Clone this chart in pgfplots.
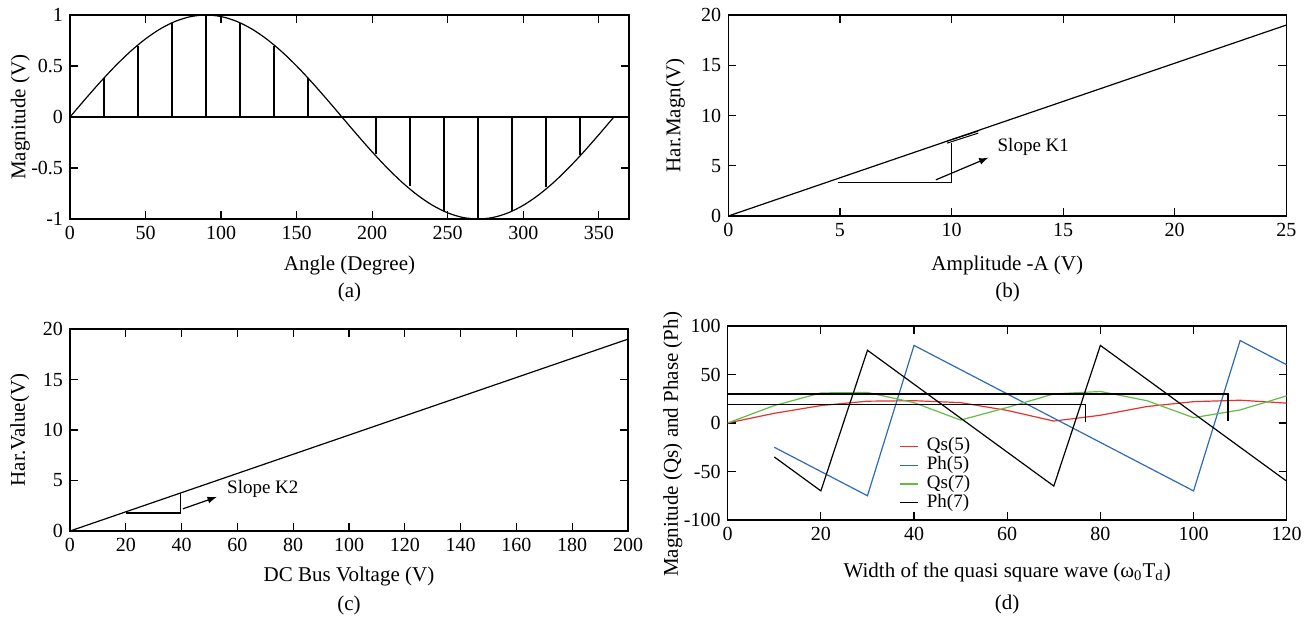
\documentclass[border=0pt]{standalone}
\usepackage{fontspec}
\setmainfont{Liberation Serif}
\usepackage{pgfplots}
\pgfplotsset{compat=1.18}
\definecolor{qsred}{HTML}{E8312F}
\definecolor{phblue}{HTML}{2E6AB8}
\definecolor{qsgreen}{HTML}{62BD45}

\pgfplotsset{
  panel/.style={
    scale only axis,
    anchor=north west,
    tick align=inside,
    major tick length=4pt,
    axis line style={line width=0.7pt},
    tick style={line width=0.6pt,black},
    /pgf/number format/assume math mode=true,
    ticklabel style={font=\fontsize{10}{12}\selectfont},
    label style={font=\fontsize{10.5}{12}\selectfont},
    every axis plot/.append style={line width=0.6pt},
    xlabel style={at={(axis description cs:0.5,0)},anchor=center,yshift=-23pt},
  }
}

\begin{document}
\begin{tikzpicture}
\path[use as bounding box] (0,0) rectangle (652pt,-308.5pt);

% (a) sampled sine
\begin{axis}[panel,
  at={(35pt,-7.5pt)}, width=279.5pt, height=102pt,
  xmin=0, xmax=370, ymin=-1, ymax=1,
  xtick={0,50,...,350}, ytick={-1,-0.5,0,0.5,1},
  xlabel={Angle (Degree)}, ylabel={Magnitude (V)},
  ylabel style={at={(axis description cs:-0.089,0.5)},anchor=center}]
\addplot[black,smooth] coordinates {
  (0,0) (10,0.1736) (20,0.3420) (30,0.5) (40,0.6428) (50,0.7660)
  (60,0.8660) (70,0.9397) (80,0.9848) (90,1) (100,0.9848) (110,0.9397)
  (120,0.8660) (130,0.7660) (140,0.6428) (150,0.5) (160,0.3420) (170,0.1736)
  (180,0) (190,-0.1736) (200,-0.3420) (210,-0.5) (220,-0.6428) (230,-0.7660)
  (240,-0.8660) (250,-0.9397) (260,-0.9848) (270,-1) (280,-0.9848) (290,-0.9397)
  (300,-0.8660) (310,-0.7660) (320,-0.6428) (330,-0.5) (340,-0.3420) (350,-0.1736)
  (360,0)
};
\addplot[black] coordinates {(0,0) (370,0)};
\addplot[black,ycomb] coordinates {
  (22.5,0.38) (45,0.70) (67.5,0.92) (90,1.0) (112.5,0.92) (135,0.70) (157.5,0.38)
  (202.5,-0.36) (225,-0.68) (247.5,-0.92) (270,-0.99) (292.5,-0.92) (315,-0.69) (337.5,-0.37)
};
\end{axis}

% (b) harmonic magnitude vs amplitude
\begin{axis}[panel,
  at={(364.15pt,-7.5pt)}, width=279pt, height=100.5pt,
  xmin=0, xmax=25, ymin=0, ymax=20,
  xtick={0,5,...,25}, ytick={0,5,...,20},
  xlabel={Amplitude -A (V)}, ylabel={Har.Magn(V)},
  xlabel style={yshift=-1.5pt},
  ylabel style={at={(axis description cs:-0.095,0.5)},anchor=center}]
\addplot[black] coordinates {(0,0) (25,19)};
\draw[black,line width=0.6pt] (4.9,3.3) -- (10,3.3) -- (10,7.3);
\draw[black,line width=0.5pt] (9.8,7.25) -- (11.2,8.25);
\draw[black,line width=0.5pt] (9.8,7.45) -- (11.2,8.45);
\draw[black,line width=0.6pt,-latex] (9.3,3.6) -- (11.65,5.8);
\node[anchor=west,font=\fontsize{9.5}{11}\selectfont,inner sep=0pt] at (12.05,6.9) {Slope K1};
\end{axis}

% (c) harmonic value vs DC bus voltage
\begin{axis}[panel,
  at={(35pt,-164.5pt)}, width=279pt, height=101pt,
  xmin=0, xmax=200, ymin=0, ymax=20,
  xtick={0,20,...,200}, ytick={0,5,...,20},
  xlabel={DC Bus Voltage (V)}, ylabel={Har.Value(V)},
  xlabel style={yshift=0.5pt},
  ylabel style={at={(axis description cs:-0.09,0.5)},anchor=center}]
\addplot[black] coordinates {(0,0) (200,19)};
\draw[black,line width=0.6pt] (20,1.78) -- (39.5,1.78) -- (39.5,3.75);
\draw[black,line width=0.6pt,-latex] (40.5,2.2) -- (52.6,3.37);
\node[anchor=west,font=\fontsize{9.5}{11}\selectfont,inner sep=0pt] at (56.2,4.2) {Slope K2};
\end{axis}

% (d) magnitude and phase of 5th and 7th harmonics
\begin{axis}[panel,
  at={(363.85pt,-163pt)}, width=279.5pt, height=97pt,
  xmin=0, xmax=120, ymin=-100, ymax=100,
  xtick={0,20,...,120}, ytick={-100,-50,0,50,100},
  xlabel={Width of the quasi square wave (ω\textsubscript{0}T\textsubscript{d})},
  xlabel style={yshift=-3pt},
  ylabel={Magnitude (Qs) and Phase (Ph)},
  ylabel style={at={(axis description cs:-0.098,0.39)},anchor=center},
  legend style={at={(0.307,0.43)},anchor=north west,draw=none,fill=none,
    inner sep=0pt,column sep=4pt,row sep=0pt,
    font=\fontsize{9.5}{9.5}\selectfont,
    nodes={inner sep=0pt,text height=7pt,text depth=2.4pt}},
  legend cell align=left,
  legend image code/.code={\draw[#1,line width=0.6pt] (0pt,0pt) -- (9pt,0pt);}]
\addplot[qsred] coordinates {
  (0,0) (10,10) (20,18) (30,22.5) (40,23) (50,21) (60,13) (70,2)
  (80,8) (90,17) (100,22) (110,23.5) (120,20.5)
};
\addlegendentry{Qs(5)}
\addplot[phblue] coordinates {
  (10,-25) (20,-50) (30,-75) (40,80) (100,-70) (110,85) (120,60)
};
\addlegendentry{Ph(5)}
\addplot[qsgreen] coordinates {
  (0,0) (10,18) (20,31) (30,31.5) (40,21) (50,3) (60,16) (70,30)
  (80,32.5) (90,23) (100,5.5) (110,13.5) (120,28)
};
\addlegendentry{Qs(7)}
\addplot[black] coordinates {
  (10,-35) (20,-70) (30,75) (70,-65) (80,80) (120,-60)
};
\addlegendentry{Ph(7)}
\addplot[black,forget plot] coordinates {(0,30) (107.4,30) (107.4,2)};
\addplot[black,forget plot] coordinates {(0,19) (76.8,19) (76.8,1)};
\end{axis}

\begin{scope}[font=\fontsize{10.5}{12}\selectfont]
\node at (174.75pt,-146pt) {(a)};
\node at (503.75pt,-146pt) {(b)};
\node at (174.5pt,-302.5pt) {(c)};
\node at (503.6pt,-302pt) {(d)};
\end{scope}
\end{tikzpicture}
\end{document}
